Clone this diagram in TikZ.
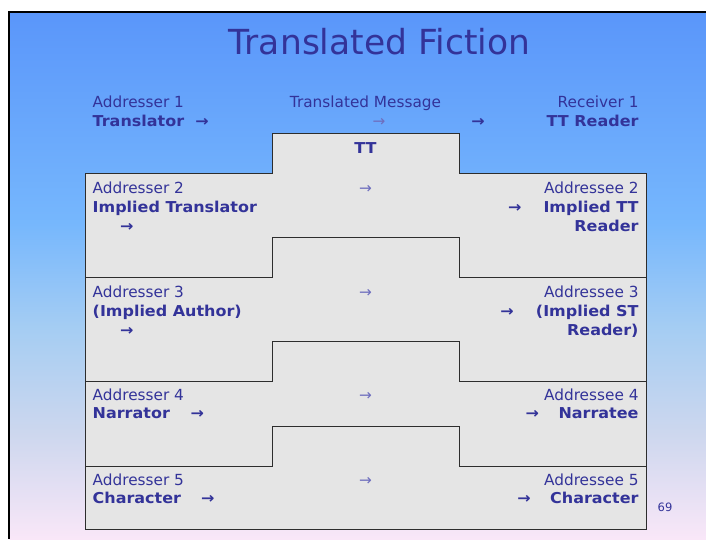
\documentclass[tikz,border=0pt]{standalone}
\usepackage{fontspec}
\setmainfont{DejaVu Sans}
\newfontfamily\wideBold{DejaVu Sans Bold}[FakeStretch=1.065]
\usetikzlibrary{positioning}
\definecolor{inkblue}{RGB}{51,51,153}
\definecolor{softink}{RGB}{110,110,190}
\definecolor{boxgray}{RGB}{229,229,229}
\definecolor{edgegray}{RGB}{45,45,45}
\definecolor{bgtop}{RGB}{90,150,250}
\definecolor{bgsky}{RGB}{118,183,253}
\definecolor{bgmid}{RGB}{165,205,243}
\definecolor{bglow}{RGB}{205,215,238}
\definecolor{bgbot}{RGB}{249,231,248}
\pgfdeclareverticalshading{slidebg}{100bp}{color(0bp)=(bgbot); color(25bp)=(bgbot); color(35bp)=(bglow); color(45bp)=(bgmid); color(55bp)=(bgsky); color(75bp)=(bgtop); color(100bp)=(bgtop)}

\begin{document}
\begin{tikzpicture}[x=1pt,y=-1pt,
  every node/.style={inner sep=0pt,outer sep=0pt,text=inkblue,font=\fontsize{15.3}{18}\selectfont},
  band/.style={fill=boxgray,draw=edgegray,line width=.8pt,line join=miter},
  who/.style={anchor=base west},
  whoR/.style={anchor=base east},
  bold/.style={font=\fontsize{15}{18}\wideBold},
  thinarrow/.style={anchor=base,text=softink},
  boldarrow/.style={anchor=base,font=\fontsize{15}{18}\wideBold}]
\useasboundingbox (0,0) rectangle (706,539);
% slide background and frame
\fill[white] (0,0) rectangle (706,539);
\shade[shading=slidebg] (9,12) rectangle (706,539);
\draw[line width=2.4pt] (9.2,539) -- (9.2,12.2) -- (706,12.2);
\node[font=\fontsize{34.5}{38}\selectfont] (title) at (379.5,42) {Translated Fiction};
% stacked bands with a raised tab
\draw[band] (85,173) -- (272,173) -- (272,133) -- (459,133) -- (459,173) -- (646,173) -- (646,277) -- (85,277) -- cycle;
\draw[band] (85,277) -- (272,277) -- (272,237) -- (459,237) -- (459,277) -- (646,277) -- (646,381) -- (85,381) -- cycle;
\draw[band] (85,381) -- (272,381) -- (272,341) -- (459,341) -- (459,381) -- (646,381) -- (646,466) -- (85,466) -- cycle;
\draw[band] (85,466) -- (272,466) -- (272,426) -- (459,426) -- (459,466) -- (646,466) -- (646,529) -- (85,529) -- cycle;
% level 1
\node[who] (snd1) at (92.7,107.7) {Addresser 1};
\node[who,bold] (snd1b) at (92.7,126.7) {Translator};
\node[boldarrow] (snd1a) at (202,126.7) {→};
\node[anchor=base] (msg) at (365.5,107.7) {Translated Message};
\node[thinarrow] (msga) at (379,126.7) {→};
\node[boldarrow] (rcv1a) at (478,126.7) {→};
\node[whoR] (rcv1) at (638.5,107.7) {Receiver 1};
\node[whoR,bold] (rcv1b) at (638.5,126.7) {TT Reader};
\node[anchor=base,bold] (tt) at (365.5,153.3) {TT};
% level 2
\node[who] (snd2) at (92.7,193.3) {Addresser 2};
\node[who,bold] (snd2b) at (92.7,212.3) {Implied Translator};
\node[boldarrow] (snd2a) at (126.7,231.3) {→};
\node[thinarrow] (mid2) at (365.5,193.3) {→};
\node[whoR] (rcv2) at (638.5,193.3) {Addressee 2};
\node[whoR,bold] (rcv2b) at (638.5,212.3) {Implied TT};
\node[whoR,bold] (rcv2c) at (638.5,231.3) {Reader};
\node[boldarrow] (rcv2a) at (514.7,212.3) {→};
% level 3
\node[who] (snd3) at (92.7,297.6) {Addresser 3};
\node[who,bold] (snd3b) at (92.7,316.6) {(Implied Author)};
\node[boldarrow] (snd3a) at (126.7,335.6) {→};
\node[thinarrow] (mid3) at (365.5,297.6) {→};
\node[whoR] (rcv3) at (638.5,297.6) {Addressee 3};
\node[whoR,bold] (rcv3b) at (638.5,316.6) {(Implied ST};
\node[whoR,bold] (rcv3c) at (638.5,335.6) {Reader)};
\node[boldarrow] (rcv3a) at (507,316.6) {→};
% level 4
\node[who] (snd4) at (92.7,400) {Addresser 4};
\node[who,bold] (snd4b) at (92.7,418.7) {Narrator};
\node[boldarrow] (snd4a) at (197.3,418.7) {→};
\node[thinarrow] (mid4) at (365.5,400) {→};
\node[whoR] (rcv4) at (638.5,400) {Addressee 4};
\node[whoR,bold] (rcv4b) at (638.5,418.7) {Narratee};
\node[boldarrow] (rcv4a) at (532.3,418.7) {→};
% level 5
\node[who] (snd5) at (92.7,485) {Addresser 5};
\node[who,bold] (snd5b) at (92.7,503.7) {Character};
\node[boldarrow] (snd5a) at (207.7,503.7) {→};
\node[thinarrow] (mid5) at (365.5,485) {→};
\node[whoR] (rcv5) at (638.5,485) {Addressee 5};
\node[whoR,bold] (rcv5b) at (638.5,503.7) {Character};
\node[boldarrow] (rcv5a) at (524,503.7) {→};
\node[anchor=base,font=\fontsize{11.5}{13}\selectfont] (pageno) at (665,511.7) {69};
\end{tikzpicture}
\end{document}
